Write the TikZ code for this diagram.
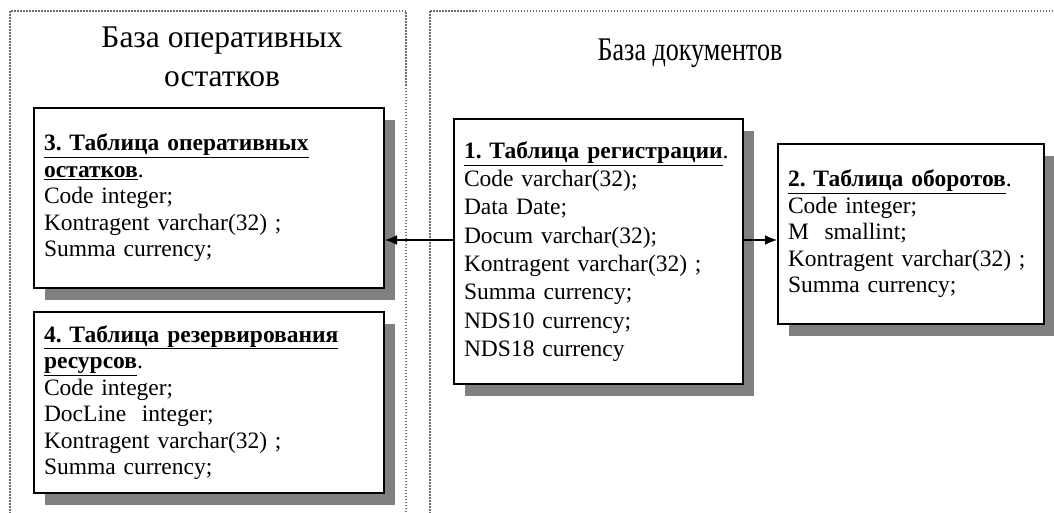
\documentclass[tikz,border=0pt]{standalone}
\usepackage{fontspec}
\setmainfont{Liberation Serif}
\usepackage{graphicx}
\usetikzlibrary{arrows.meta}
\usetikzlibrary{shadows}
\definecolor{framegray}{RGB}{110,110,110}
\definecolor{shadowgray}{RGB}{128,128,128}
\newcommand{\hdr}[1]{\underline{\textbf{#1}}}
\frenchspacing

\begin{document}
\begin{tikzpicture}[x=1pt,y=-1pt]
	\clip (0,0) rectangle (1054,512);
	\fill[white] (0,0) rectangle (1054,512);

	\begin{scope}[framegray, line width=1.5pt, dash pattern=on 1.5pt off 1.5pt]
		\draw (10,11) rectangle (406,530);
		\draw (430,11) rectangle (1070,530);
	\end{scope}

	\node[font=\fontsize{31.5}{39}\selectfont, align=center, anchor=north, inner sep=0pt] (ostTitle) at (222,27) {База оперативных\\остатков};
	\node[font=\fontsize{33}{40}\selectfont, anchor=base, inner sep=0pt] (docTitle) at (690,60) {\scalebox{0.79}[1]{База документов}};

	\begin{scope}[every node/.style={draw, line width=2pt, fill=white,
	              drop shadow={shadow xshift=11pt, shadow yshift=-12pt, fill=shadowgray, opacity=1},
	              anchor=north west, align=left, inner xsep=10pt, inner ysep=0pt,
	              font=\fontsize{23.5}{26.5}\selectfont}]
		\node[text width=269pt, minimum height=265pt, font=\fontsize{23.5}{28.3}\selectfont] (1) at (453,118)
			{\hdr{1. Таблица регистрации}.\\ Code varchar(32);\\ Data Date;\\ Docum varchar(32);\\ Kontragent varchar(32) ;\\ Summa currency;\\ NDS10 currency;\\ NDS18 currency};
		\node[text width=246pt, minimum height=180pt] (2) at (777,143)
			{\hdr{2. Таблица оборотов}.\\ Code integer;\\ M\ \ smallint;\\ Kontragent varchar(32) ;\\ Summa currency;};
		\node[text width=330pt, minimum height=180pt] (3) at (33,107)
			{\hdr{3. Таблица оперативных}\\ \hdr{остатков}.\\ Code integer;\\ Kontragent varchar(32) ;\\ Summa currency;};
		\node[text width=330pt, minimum height=181pt] (4) at (33,311)
			{\hdr{4. Таблица резервирования}\\ \hdr{ресурсов}.\\ Code integer;\\ DocLine\ \ integer;\\ Kontragent varchar(32) ;\\ Summa currency;};
	\end{scope}

	\coordinate (1l) at ([yshift=11.5pt]1.west);
	\coordinate (1r) at ([yshift=11.5pt]1.east);

	\begin{scope}[>={Latex[length=12pt,width=10pt]},
	              every edge/.style={draw=black, line width=1.5pt}]
		\path (1l) edge[->] (1l -| 3.east);
		\path (1r) edge[->] (1r -| 2.west);
	\end{scope}
\end{tikzpicture}
\end{document}
